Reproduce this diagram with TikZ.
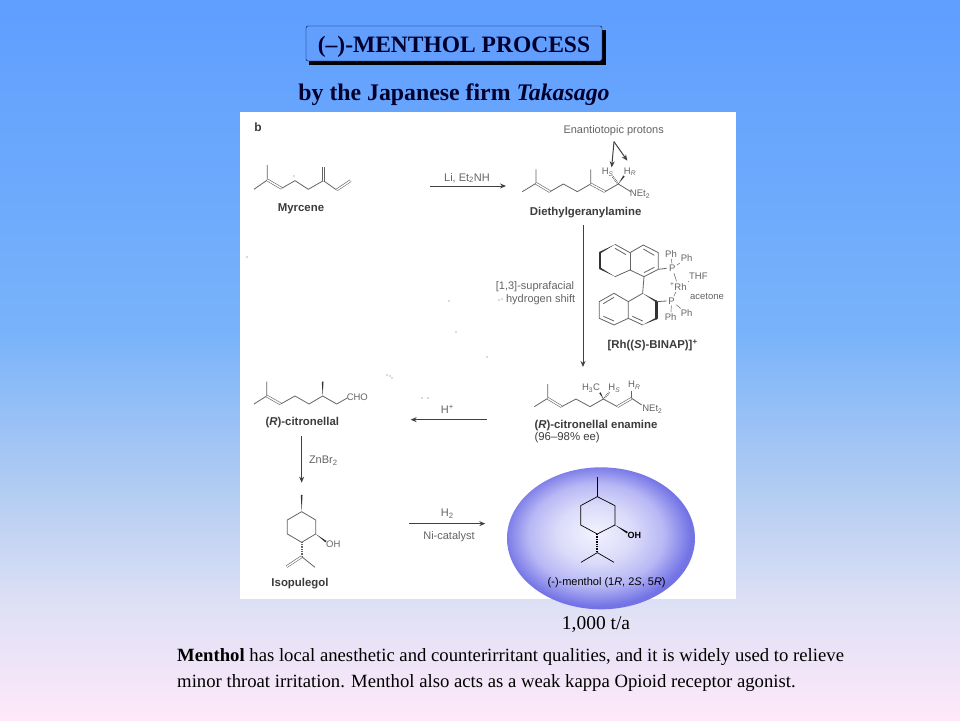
\documentclass[tikz,border=0pt]{standalone}
\usepackage{fontspec}
\setmainfont{Liberation Serif}
\setsansfont{Liberation Sans}
\usetikzlibrary{arrows.meta,calc,shapes.geometric}

\pgfdeclareverticalshading{slidefade}{100bp}{rgb(0bp)=(1,.91,.98); rgb(25bp)=(1,.91,.98); rgb(33bp)=(.87,.88,.96); rgb(41bp)=(.70,.80,.95); rgb(52bp)=(.47,.70,.98); rgb(75bp)=(.37,.62,1); rgb(100bp)=(.37,.62,1)}
\pgfdeclareradialshading{blobfade}{\pgfpoint{-2bp}{2bp}}{rgb(0bp)=(.95,.95,1); rgb(10bp)=(.86,.86,.98); rgb(18bp)=(.72,.72,.96); rgb(25bp)=(.45,.45,.90); rgb(50bp)=(.45,.45,.90)}
\definecolor{bondc}{RGB}{100,100,100}
\definecolor{labelc}{RGB}{100,100,100}
\definecolor{namec}{RGB}{60,60,60}
\definecolor{titlec}{RGB}{0,0,45}

\tikzset{
    crop/.style 2 args={shift={(#1,#2)}, scale=0.3333},
    bond/.style={draw=bondc, line width=0.8pt, line join=round},
    dblbond/.style={draw=bondc, double=white, double distance=1.4pt, line width=0.6pt},
    hashbond/.style={draw=bondc, line width=2.2pt, dash pattern=on 0.6pt off 1.1pt},
    ringbold/.style={draw=black!80, line width=2.6pt, line cap=round},
    rxn/.style={-{Stealth[length=6pt,width=5pt]}, draw=black!75, line width=1pt},
    reagent/.style={font=\sffamily\fontsize{11}{13}\selectfont, text=labelc, inner sep=0pt, yshift=-1pt},
    molname/.style={font=\sffamily\bfseries\fontsize{11.4}{13}\selectfont, text=namec, inner sep=0pt, yshift=-1.5pt},
    atomlab/.style={font=\sffamily\fontsize{9.5}{11}\selectfont, text=labelc, inner sep=1.2pt},
    rhbond/.style={draw=bondc, line width=0.5pt},
    bodytext/.style={font=\fontsize{18.7}{21}\selectfont, text=black, inner sep=0pt, anchor=west},
}
\newcommand{\wedgebond}[3][bondc]{\fill[#1] (#2) -- ($(#3)!2.6pt!90:(#2)$) -- ($(#3)!2.6pt!-90:(#2)$) -- cycle;}

\begin{document}
\begin{tikzpicture}[x=1pt, y=-1pt]
    \useasboundingbox (0,0) rectangle (960,720);
    \shade[shading=slidefade] (0,0) rectangle (960,720);

    % title
    \fill[black] (309,30) rectangle (606,65);
    \node[draw=titlec, fill={rgb,255:red,97;green,158;blue,254}, rounded corners=2pt, minimum width=296pt, minimum height=35pt, inner sep=0pt,
        font=\bfseries\fontsize{23.5}{26}\selectfont, text=titlec] (title) at (454,43.5) {\raisebox{-8.5pt}[0pt][0pt]{(--)-MENTHOL PROCESS}};
    \node[font=\bfseries\fontsize{23.8}{27}\selectfont, text=titlec, inner sep=0pt] (firm) at (454,95) {by the Japanese firm \textit{Takasago}};

    % scanned page
    \fill[white] (240,112) rectangle (736,599);
    \node[font=\sffamily\bfseries\fontsize{12}{14}\selectfont, text=namec, inner sep=0pt] (partb) at (258,127) {b};
    \foreach \px/\py in {294/176, 449/301, 456/332, 487/357, 502/299, 499/300, 387/375, 390/376, 392/378, 422/398, 428/398, 247/257}
        \fill[black!60] (\px,\py) circle (0.6pt);

    % myrcene
    \begin{scope}[crop={240}{110}]
        \draw[bond] (42,238) -- (82,210) -- (82,165);
        \draw[dblbond] (82,210) -- (125,235);
        \draw[bond] (125,235) -- (165,212) -- (205,238) -- (250,212) -- (290,240);
        \draw[dblbond] (250,212) -- (250,170);
        \draw[dblbond] (290,240) -- (332,212);
        \node[molname] (myrcene) at (183,293) {Myrcene};
    \end{scope}

    % diethylgeranylamine and the catalyst
    \begin{scope}[crop={490}{110}]
        \draw[bond] (97,245) -- (138,220) -- (138,178);
        \draw[dblbond] (138,220) -- (180,245);
        \draw[bond] (180,245) -- (220,222) -- (262,245) -- (302,222) -- (302,178);
        \draw[dblbond] (302,222) -- (345,245);
        \draw[bond] (345,245) -- (385,222) -- (422,245);
        \draw[hashbond] (385,222) -- (368,200);
        \wedgebond[black!80]{385,222}{402,198}
        \node[reagent] (protons) at (371,58) {Enantiotopic protons};
        \node[atomlab] (hs) at (353,186) {H\textsubscript{\textit{S}}};
        \node[atomlab] (hr) at (420,185) {H\textsubscript{\textit{R}}};
        \node[atomlab] (net) at (450,252) {NEt\textsubscript{2}};
        \node[molname] (geranyl) at (287,302) {Diethylgeranylamine};
        \coordinate (fork) at (372,95);
        \draw[rxn] (fork) -- (365,172);
        \draw[rxn] (fork) -- (412,152);

        % upper naphthyl
        \draw[bond] (375,403) -- (420,428) -- (460,405) -- (505,428) -- (505,478) -- (462,500) -- (420,480) -- (375,500);
        \draw[bond] (420,428) -- (420,480);
        \draw[bond] (375,415) -- (408,434);
        \draw[bond] (460,417) -- (493,436);
        \draw[bond] (493,472) -- (462,488);
        \wedgebond[black!80]{375,403}{330,428}
        \wedgebond[black!80]{375,500}{330,475}
        \draw[ringbold] (330,428) -- (330,475);
        \draw[bond] (505,478) -- (530,475);
        \draw[bond] (462,500) -- (458,550);
        % lower naphthyl
        \draw[bond] (458,645) -- (415,625) -- (415,575) -- (458,550);
        \draw[bond] (415,575) -- (372,550) -- (328,575) -- (328,625) -- (372,645) -- (415,625);
        \draw[bond] (372,562) -- (340,581);
        \draw[bond] (340,619) -- (372,633);
        \draw[bond] (427,619) -- (458,633);
        \wedgebond[black!80]{458,550}{500,575}
        \wedgebond[black!80]{458,645}{500,625}
        \draw[ringbold] (500,575) -- (500,625);
        \draw[bond] (500,575) -- (530,573);
        % ligands on Rh
        \node[atomlab] (ph1) at (543,432) {Ph};
        \node[atomlab] (ph2) at (590,445) {Ph};
        \node[atomlab] (p1) at (547,475) {P};
        \node[atomlab] (thf) at (625,500) {THF};
        \node[atomlab] (rh) at (565,530) {\textsuperscript{+}Rh};
        \node[atomlab] (acetone) at (651,560) {acetone};
        \node[atomlab] (p2) at (545,573) {P};
        \node[atomlab] (ph3) at (590,610) {Ph};
        \node[atomlab] (ph4) at (542,622) {Ph};
        \draw[rhbond] (p1) -- (ph1);
        \draw[rhbond] (p1) -- (ph2);
        \draw[rhbond] (p1) -- (rh);
        \draw[rhbond] (p2) -- (rh);
        \draw[rhbond] (p2) -- (ph3);
        \draw[rhbond] (p2) -- (ph4);
        \draw[rhbond] (rh) -- (thf);
        \node[molname] (binap) at (488,703) {[Rh((\textit{S})-BINAP)]\textsuperscript{+}};
        \node[reagent] (shift1) at (135,528) {[1,3]-suprafacial};
        \node[reagent] (shift2) at (152,565) {hydrogen shift};
    \end{scope}

    % reaction arrows
    \coordinate (liA) at (430,186);
    \coordinate (liB) at (506,186);
    \draw[rxn] (liA) -- (liB);
    \node[reagent] (li) at (467,177) {Li, Et\textsubscript{2}NH};
    \coordinate (shiftA) at (583,225);
    \coordinate (shiftB) at (583,367);
    \draw[rxn] (shiftA) -- (shiftB);

    % citronellal and isopulegol
    \begin{scope}[crop={240}{360}]
        \draw[bond] (42,132) -- (80,108) -- (80,65);
        \draw[dblbond] (80,108) -- (122,132);
        \draw[bond] (122,132) -- (165,108) -- (207,132) -- (248,108) -- (290,132) -- (322,114);
        \wedgebond[black!80]{248,108}{248,65}
        \node[atomlab] (cho) at (352,112) {CHO};
        \node[molname] (citronellal) at (187,182) {(\textit{R})-citronellal};
        \coordinate (hA) at (740,179);
        \coordinate (hB) at (512,179);
        \draw[rxn] (hA) -- (hB);
        \node[reagent] (hplus) at (622,145) {H\textsuperscript{+}};
        \coordinate (znA) at (185,228);
        \coordinate (znB) at (185,368);
        \draw[rxn] (znA) -- (znB);
        \node[reagent] (zn) at (250,300) {ZnBr\textsubscript{2}};
        \draw[bond] (185,455) -- (227,480) -- (227,522) -- (185,547) -- (142,522) -- (142,480) -- cycle;
        \wedgebond[black!80]{185,455}{185,405}
        \wedgebond[black!80]{227,522}{258,545}
        \draw[hashbond] (185,547) -- (185,590);
        \draw[dblbond] (185,590) -- (140,620);
        \draw[bond] (185,590) -- (225,622);
        \node[atomlab] (oh) at (280,552) {OH};
        \node[molname] (isopulegol) at (180,665) {Isopulegol};
        \coordinate (hhA) at (508,491);
        \coordinate (hhB) at (736,491);
        \draw[rxn] (hhA) -- (hhB);
        \node[reagent] (hh) at (622,458) {H\textsubscript{2}};
        \node[reagent] (ni) at (627,528) {Ni-catalyst};
    \end{scope}

    % enamine and menthol
    \begin{scope}[crop={490}{360}]
        \draw[bond] (133,140) -- (173,115) -- (173,72);
        \draw[dblbond] (173,115) -- (215,140);
        \draw[bond] (215,140) -- (258,117) -- (300,140) -- (340,117) -- (382,140);
        \draw[dblbond] (382,140) -- (425,115);
        \draw[bond] (425,115) -- (425,92);
        \draw[bond] (425,115) -- (455,135);
        \wedgebond[black!80]{340,117}{330,98}
        \draw[hashbond] (340,117) -- (358,97);
        \node[atomlab] (h3c) at (303,85) {H\textsubscript{3}C};
        \node[atomlab] (hs2) at (373,85) {H\textsubscript{\textit{S}}};
        \node[atomlab] (hr2) at (433,75) {H\textsubscript{\textit{R}}};
        \node[atomlab] (net2) at (487,148) {NEt\textsubscript{2}};
        \node[molname, anchor=west] (enamine) at (133,192) {(\textit{R})-citronellal enamine};
        \node[molname, anchor=west, font=\sffamily\fontsize{11.4}{13}\selectfont] (ee) at (133,228) {(96--98\% ee)};

        \node[ellipse, minimum width=188pt, minimum height=142pt, inner sep=0pt, shading=blobfade] (blob) at (333,535) {};
        \draw[black, line width=0.7pt] (322,410) -- (375,437) -- (375,495) -- (322,522) -- (272,495) -- (272,437) -- cycle;
        \draw[black, line width=0.7pt] (322,410) -- (322,350);
        \wedgebond[black]{375,495}{412,518}
        \draw[black, line width=1.8pt, dash pattern=on 0.6pt off 1.1pt] (322,522) -- (322,578);
        \draw[black, line width=0.7pt] (273,607) -- (322,578) -- (372,607);
        \node[inner sep=0pt, font=\sffamily\bfseries\fontsize{9}{10}\selectfont] (menthoh) at (433,525) {OH};
        \node[inner sep=0pt, font=\sffamily\fontsize{11}{13}\selectfont] (menthol) at (350,668) {(-)-menthol (1\textit{R}, 2\textit{S}, 5\textit{R})};
    \end{scope}

    % bottom text
    \node[font=\fontsize{19.5}{22}\selectfont, inner sep=0pt] (tonnes) at (596,625) {1,000 t/a};
    \node[bodytext] (line1) at (177,657) {\textbf{Menthol} has local anesthetic and counterirritant qualities, and it is widely used to relieve};
    \node[bodytext] (line2) at (177,683) {minor throat irritation. Menthol also acts as a weak kappa Opioid receptor agonist.};
\end{tikzpicture}
\end{document}
